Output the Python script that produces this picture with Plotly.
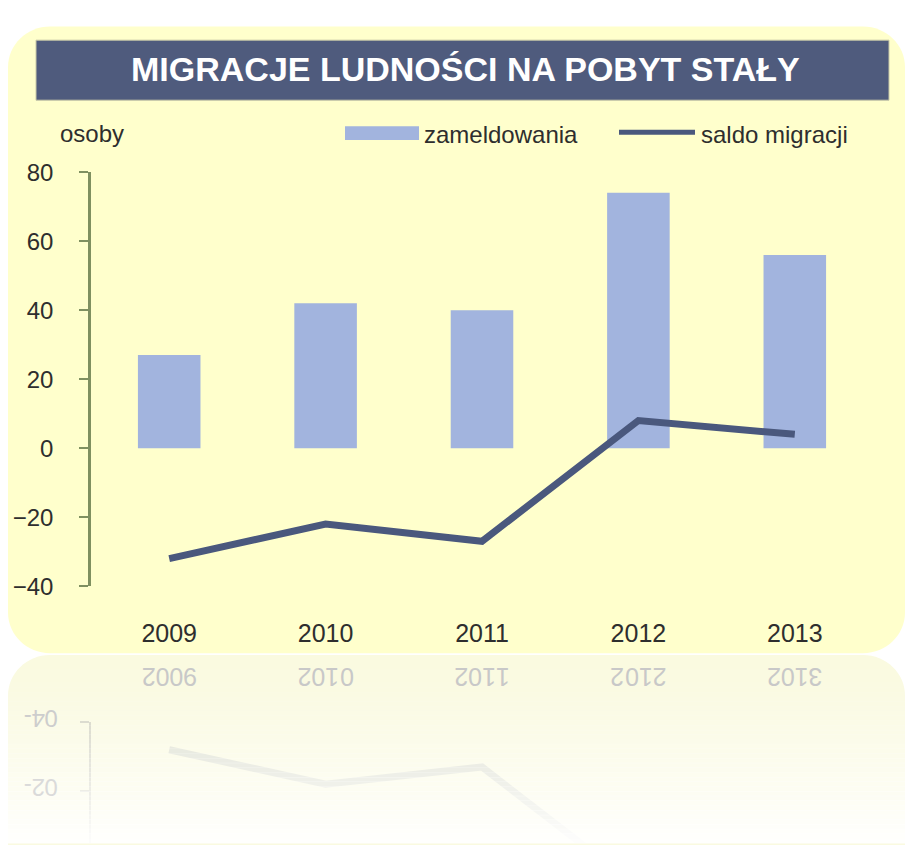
import plotly.graph_objects as go

# ---------------- data ----------------
years = ["2009", "2010", "2011", "2012", "2013"]
zameldowania = [27, 42, 40, 74, 56]
saldo_migracji = [-32, -22, -27, 8, 4]
y_tick_values = [-40, -20, 0, 20, 40, 60, 80]
title_text = "MIGRACJE LUDNOŚCI NA POBYT STAŁY"
unit_label = "osoby"
series_names = ["zameldowania", "saldo migracji"]

# ---------------- style ----------------
W, H = 909, 856
FONT = "Liberation Sans, Arial, sans-serif"
BAR = "#A2B4DE"
LINE = "#4A587D"
AX = "#7F9060"
TXT = "#2E2E2E"
PANEL = "#FFFFCC"
BANNER = "#4F5B7D"


def px(x):
    return x / W


def py(y):
    return 1 - y / H


def rounded_path(x0, y0, x1, y1, r_top, r_bot):
    k = 0.5523
    def P(x, y):
        return f"{px(x)},{py(y)}"
    d = f"M {P(x0 + r_top, y0)} L {P(x1 - r_top, y0)} "
    d += f"C {P(x1 - r_top + k * r_top, y0)} {P(x1, y0 + r_top - k * r_top)} {P(x1, y0 + r_top)} "
    d += f"L {P(x1, y1 - r_bot)} "
    if r_bot > 0:
        d += f"C {P(x1, y1 - r_bot + k * r_bot)} {P(x1 - r_bot + k * r_bot, y1)} {P(x1 - r_bot, y1)} "
    d += f"L {P(x0 + r_bot, y1)} "
    if r_bot > 0:
        d += f"C {P(x0 + r_bot - k * r_bot, y1)} {P(x0, y1 - r_bot + k * r_bot)} {P(x0, y1 - r_bot)} "
    d += f"L {P(x0, y0 + r_top)} "
    d += f"C {P(x0, y0 + r_top - k * r_top)} {P(x0 + r_top - k * r_top, y0)} {P(x0 + r_top, y0)} Z"
    return d


# plot geometry (pixels)
X_L, X_R = 91, 873
Y_TOP, Y_BOT = 163.3, 590.8
MIRROR = 661
y_rng = [-40, 80]
scale = (Y_BOT - Y_TOP) / (y_rng[1] - y_rng[0])

x_dom = [px(X_L), px(X_R)]
y_dom = [py(Y_BOT), py(Y_TOP)]
zero_pos = y_dom[0] + (0 - y_rng[0]) / (y_rng[1] - y_rng[0]) * (y_dom[1] - y_dom[0])

refl_top_px = 2 * MIRROR - Y_BOT
refl_bottom_val = y_rng[0] + (H - refl_top_px) / scale

fig = go.Figure()

fig.add_trace(go.Bar(
    x=years, y=zameldowania, name=series_names[0],
    marker=dict(color=BAR, line=dict(width=0)),
    width=0.4, xaxis="x", yaxis="y", showlegend=False,
))
fig.add_trace(go.Scatter(
    x=years, y=saldo_migracji, name=series_names[1], mode="lines",
    line=dict(color=LINE, width=7), xaxis="x", yaxis="y", showlegend=False,
))
# mirrored reflection of the line
fig.add_trace(go.Scatter(
    x=years, y=saldo_migracji, mode="lines", hoverinfo="skip",
    line=dict(color="rgba(74,88,125,0.16)", width=7),
    xaxis="x2", yaxis="y2", showlegend=False,
))

shapes = []
shapes.append(dict(type="path", xref="paper", yref="paper",
                   path=rounded_path(8, 13, 905, MIRROR - 1, 42, 42),
                   fillcolor=PANEL, line=dict(width=0), layer="below"))
shapes.append(dict(type="path", xref="paper", yref="paper",
                   path=rounded_path(8, MIRROR + 1, 905, H + 2, 42, 0),
                   fillcolor="#FAFAE0", line=dict(width=0), layer="below"))
shapes.append(dict(type="rect", xref="paper", yref="paper",
                   x0=px(36), x1=px(889), y0=py(89), y1=py(27),
                   fillcolor=BANNER, line=dict(color="#C9C9A8", width=1), layer="below"))
shapes.append(dict(type="rect", xref="paper", yref="paper",
                   x0=px(345), x1=px(419), y0=py(130), y1=py(116),
                   fillcolor=BAR, line=dict(width=0)))
shapes.append(dict(type="line", xref="paper", yref="paper",
                   x0=px(619), x1=px(695), y0=py(122), y1=py(122),
                   line=dict(color=LINE, width=5)))
n = 40
step = (H - MIRROR) / n
for i in range(n):
    t = (i + 0.5) / n
    shapes.append(dict(type="rect", xref="paper", yref="paper",
                       x0=0, x1=1, y0=py(MIRROR + (i + 1) * step + 0.5), y1=py(MIRROR + i * step),
                       fillcolor="white", opacity=min(1.0, 0.95 * t ** 1.4),
                       line=dict(width=0), layer="above"))

annotations = []
annotations.append(dict(text="<b>" + title_text + "</b>", xref="paper", yref="paper",
                        x=px(466), y=py(57), showarrow=False,
                        font=dict(family=FONT, size=34, color="white"),
                        xanchor="center", yanchor="middle"))
annotations.append(dict(text=unit_label, xref="paper", yref="paper",
                        x=px(58), y=py(123), showarrow=False, xanchor="left", yanchor="middle",
                        font=dict(family=FONT, size=24, color=TXT)))
annotations.append(dict(text=series_names[0], xref="paper", yref="paper",
                        x=px(422), y=py(124), showarrow=False, xanchor="left", yanchor="middle",
                        font=dict(family=FONT, size=24, color=TXT)))
annotations.append(dict(text=series_names[1], xref="paper", yref="paper",
                        x=px(699), y=py(124), showarrow=False, xanchor="left", yanchor="middle",
                        font=dict(family=FONT, size=24, color=TXT)))

CW = {"-": 0.333}


def char_w(c, size):
    return CW.get(c, 0.556) * size


def mirrored(text, size, color, xref, x, yref, y, align, yshift=0):
    # each character rotated 180deg, kept in reading order
    total = sum(char_w(c, size) for c in text)
    start = -total / 2 if align == "center" else -total
    out = []
    off = start
    for c in text:
        w = char_w(c, size)
        out.append(dict(text=c, xref=xref, x=x, xshift=off + w / 2, yref=yref, y=y, yshift=yshift,
                        showarrow=False, textangle=180, xanchor="center", yanchor="middle",
                        font=dict(family=FONT, size=size, color=color)))
        off += w
    return out


label_refl_y = py(2 * MIRROR - 635)
x_centers = [X_L + (i + 0.5) * (X_R - X_L) / len(years) for i in range(len(years))]
for yr, xc in zip(years, x_centers):
    annotations += mirrored(yr, 25, "#C8C8C8", "paper", px(xc), "paper", label_refl_y, "center", yshift=3)
for v, col in [(-40, "#CDCDCD"), (-20, "#DADADA")]:
    annotations += mirrored(str(v), 24, col, "paper", px(58), "y2", v, "right", yshift=3)

fig.update_layout(
    width=W, height=H,
    margin=dict(l=0, r=0, t=0, b=0),
    paper_bgcolor="white", plot_bgcolor="rgba(0,0,0,0)",
    showlegend=False,
    shapes=shapes, annotations=annotations,
    xaxis=dict(domain=x_dom, type="category", categoryorder="array", categoryarray=years,
               range=[-0.5, 4.5], showline=False, showgrid=False, zeroline=False,
               ticks="", ticklabelstandoff=30,
               tickfont=dict(family=FONT, size=25, color=TXT), anchor="y", fixedrange=True),
    yaxis=dict(domain=y_dom, range=y_rng, tickvals=y_tick_values, showgrid=False,
               zeroline=False, showline=True, linecolor=AX, linewidth=2.5,
               ticks="outside", ticklen=9, tickwidth=2, tickcolor=AX,
               ticklabelstandoff=21,
               tickfont=dict(family=FONT, size=24, color=TXT), anchor="x", fixedrange=True),
    xaxis3=dict(domain=x_dom, overlaying="x", anchor="free", position=zero_pos,
                range=[-0.5, 4.5], tickvals=[-0.5, 0.5, 1.5, 2.5, 3.5, 4.5],
                showticklabels=False, ticks="outside", ticklen=8, tickwidth=2, tickcolor=AX,
                showline=True, linecolor=AX, linewidth=2.5, showgrid=False, zeroline=False,
                layer="below traces", side="bottom"),
    xaxis2=dict(domain=x_dom, type="category", categoryorder="array", categoryarray=years,
                range=[-0.5, 4.5], visible=False, anchor="y2"),
    yaxis2=dict(domain=[0, py(refl_top_px)], range=[refl_bottom_val, y_rng[0]],
                tickvals=[-40, -20], showticklabels=False, showgrid=False, zeroline=False,
                showline=True, linecolor="rgba(150,150,150,0.4)", linewidth=2,
                ticks="outside", ticklen=9, tickwidth=2, tickcolor="rgba(150,150,150,0.4)",
                anchor="x2"),
)

fig.write_html("out.html", config={"displayModeBar": False},
               post_script="document.body.style.margin='0';")
